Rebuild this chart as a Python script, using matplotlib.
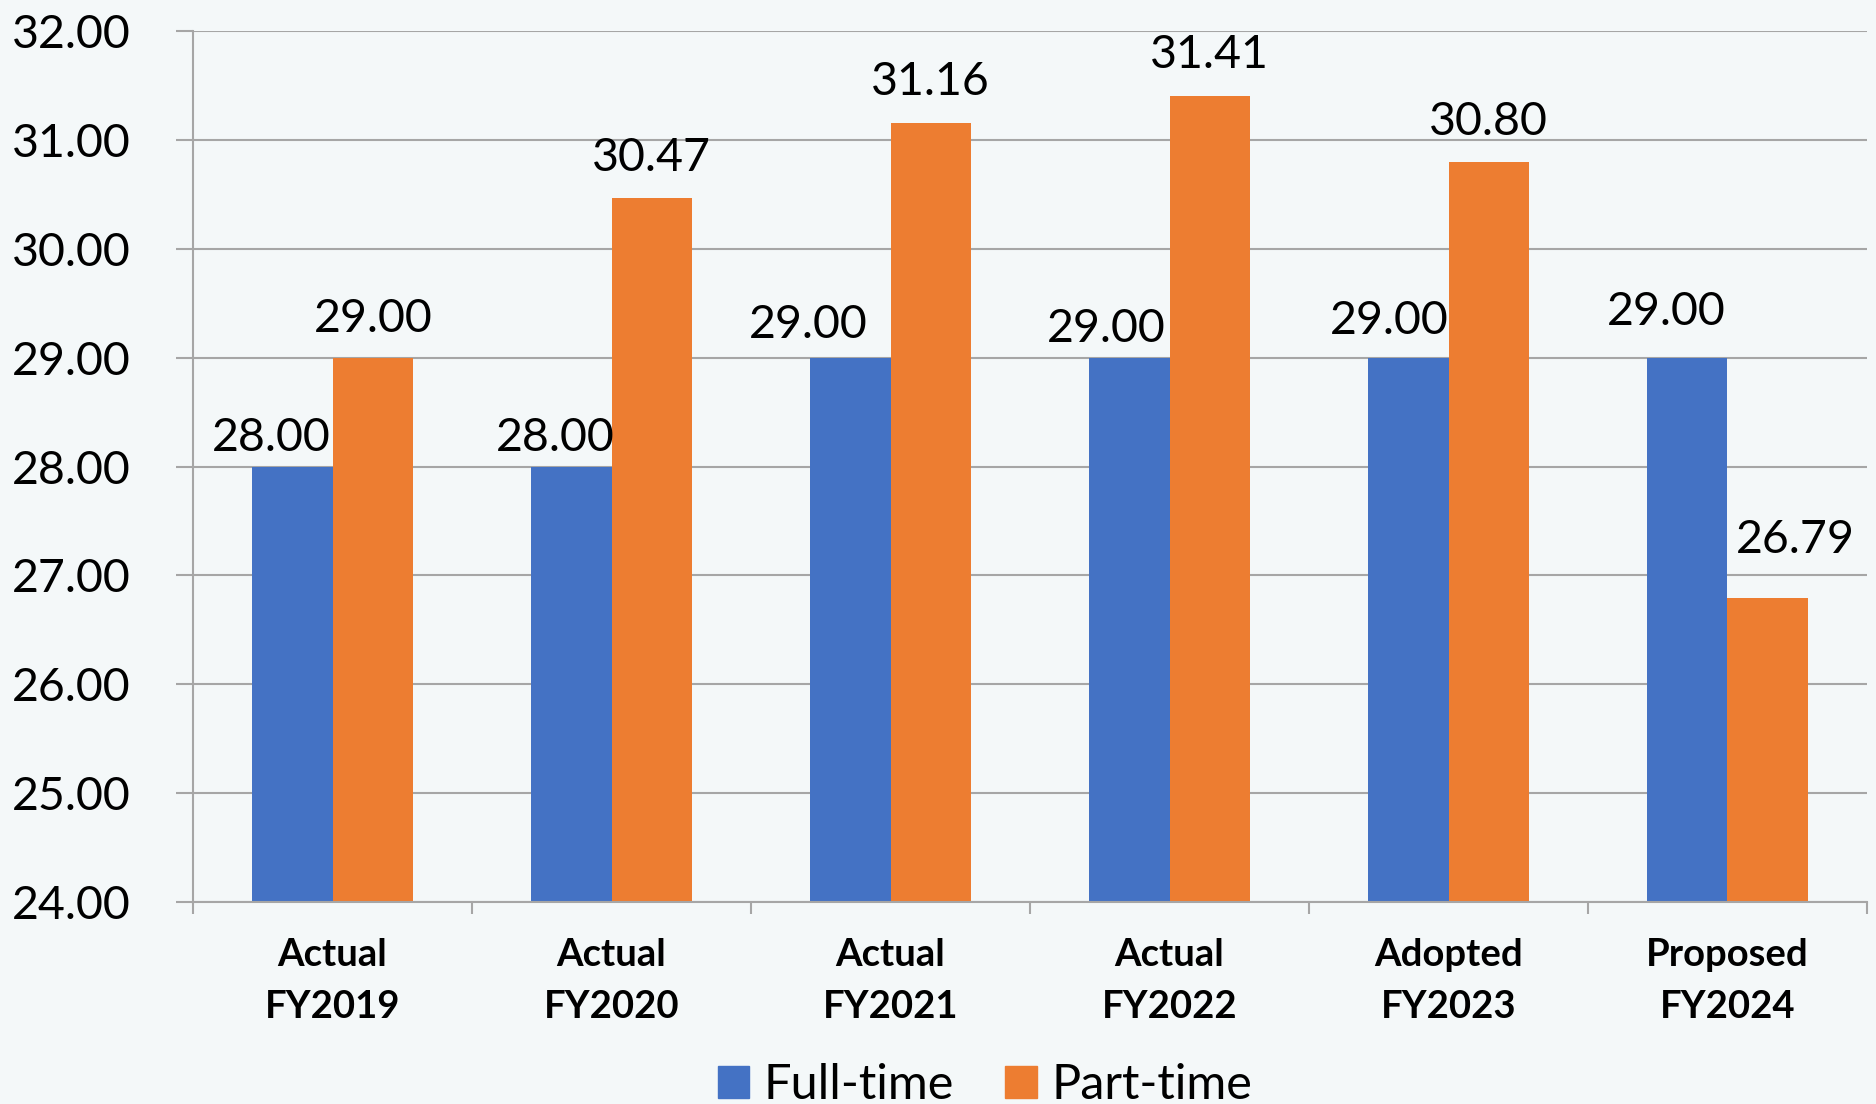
import numpy as np
import matplotlib
matplotlib.use('Agg')
import matplotlib.pyplot as plt
from matplotlib.patches import Patch

# staffing by fiscal year
categories = ['Actual\nFY2019', 'Actual\nFY2020', 'Actual\nFY2021',
              'Actual\nFY2022', 'Adopted\nFY2023', 'Proposed\nFY2024']
full_time = [28.00, 28.00, 29.00, 29.00, 29.00, 29.00]
part_time = [29.00, 30.47, 31.16, 31.41, 30.80, 26.79]
series_names = ['Full-time', 'Part-time']
y_ticks = [24, 25, 26, 27, 28, 29, 30, 31, 32]

# label nudges in pixels (dx, dy above bar top)
full_nudge = [(-21, 16), (-16, 16), (-42, 20), (-23, 16), (-19, 24), (-21, 33)]
part_nudge = [(0, 26), (0, 27), (0, 28), (0, 28), (0, 27), (28, 45)]

blue = '#4472C4'
orange = '#ED7D31'
grid_col = '#A6A6A6'
bg = '#F4F8F9'

plt.rcParams['font.family'] = ['Lato', 'DejaVu Sans']

fig = plt.figure(figsize=(18.76, 11.04), dpi=100, facecolor=bg)
ax = fig.add_axes([0.1029, 0.1830, 0.8923, 0.7886], facecolor=bg)

x = np.arange(len(categories))
w = 0.2885
ax.bar(x - w / 2, full_time, w, color=blue, zorder=2)
ax.bar(x + w / 2, part_time, w, color=orange, zorder=2)

for xi, v, (dx, dy) in zip(x - w / 2, full_time, full_nudge):
    ax.annotate(f'{v:.2f}', (xi, v), xytext=(dx, dy), textcoords='offset pixels',
                ha='center', va='baseline', fontsize=33.5, color='black', zorder=3)
for xi, v, (dx, dy) in zip(x + w / 2, part_time, part_nudge):
    ax.annotate(f'{v:.2f}', (xi, v), xytext=(dx, dy), textcoords='offset pixels',
                ha='center', va='baseline', fontsize=33.5, color='black', zorder=3)

ax.set_xlim(-0.5, len(categories) - 0.5)
ax.set_ylim(24, 32)
ax.set_yticks(y_ticks)
ax.set_yticklabels([f'{t:.2f}' for t in y_ticks], fontsize=33.5)
ax.yaxis.grid(True, color=grid_col, lw=1.5, zorder=0)
ax.set_axisbelow(True)
ax.tick_params(axis='y', length=12.2, width=1.5, color=grid_col, pad=33)

# category boundaries get the tick marks, labels sit at the centres
ax.set_xticks(np.arange(len(categories) + 1) - 0.5)
ax.set_xticklabels([])
ax.set_xticks(x, minor=True)
ax.set_xticklabels(categories, minor=True, fontsize=27.5, fontweight='bold',
                   linespacing=1.65)
ax.tick_params(axis='x', which='major', length=8.6, width=1.5, color=grid_col)
ax.tick_params(axis='x', which='minor', length=0, pad=26)

for side in ['top', 'right']:
    ax.spines[side].set_visible(False)
for side in ['left', 'bottom']:
    ax.spines[side].set_color(grid_col)
    ax.spines[side].set_linewidth(1.5)

handles = [Patch(color=blue), Patch(color=orange)]
fig.legend(handles, series_names, loc='center', bbox_to_anchor=(985 / 1876, 1 - 1085 / 1104),
           ncol=2, frameon=False, fontsize=35, handlelength=0.65, handleheight=0.65,
           handletextpad=0.3, columnspacing=1.05, borderpad=0)

fig.savefig('out.png', dpi=100, facecolor=bg)
